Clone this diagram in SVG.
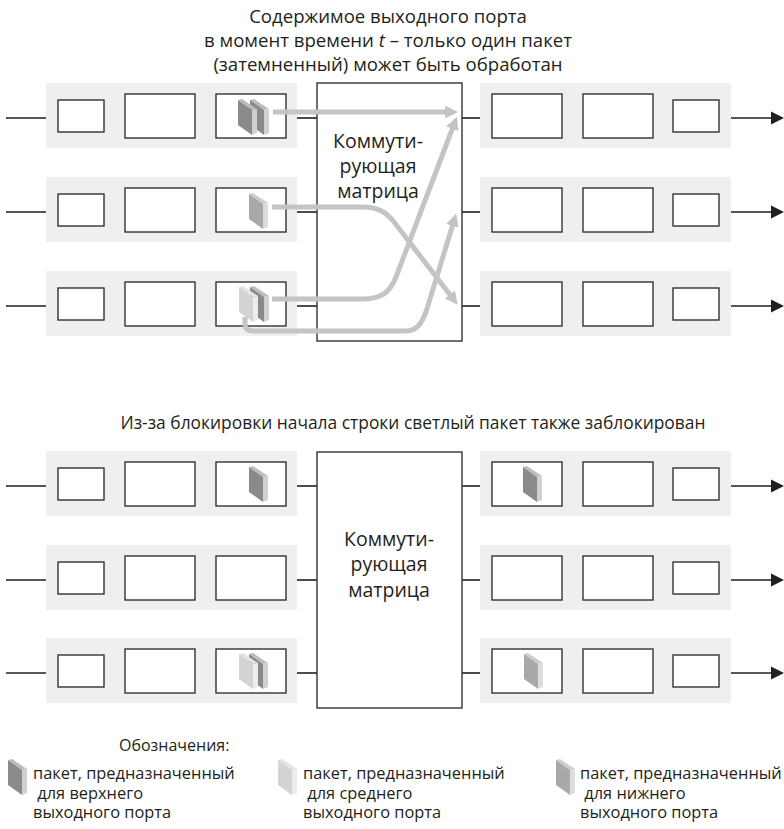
<svg xmlns="http://www.w3.org/2000/svg" xmlns:xlink="http://www.w3.org/1999/xlink" width="784" height="829" viewBox="0 0 784 829">
<style>
text{font-family:"Open Sans","Noto Sans","Liberation Sans",sans-serif;fill:#231f20}
.t{font-size:18.6px;text-anchor:middle}
.t2{font-size:17.4px;text-anchor:middle}
.m{font-size:19.5px;text-anchor:middle}
.lg{font-size:16.4px;white-space:pre}
.band{fill:#eeefef}
.box{fill:#fff;stroke:#333;stroke-width:1.4}
.mx{fill:#fff;stroke:#333;stroke-width:1.4}
.ln{stroke:#231f20;stroke-width:1.6;fill:none}
.out{stroke:#231f20;stroke-width:1.6;fill:none;marker-end:url(#blk)}
.gr{stroke:#c4c4c4;stroke-width:5;fill:none;marker-end:url(#gra)}
</style>
<defs>
<marker id="blk" markerUnits="userSpaceOnUse" markerWidth="14" markerHeight="14" viewBox="0 0 14 14" refX="1" refY="7" orient="auto"><path d="M0,0.5 L13,7 L0,13.5 z" fill="#231f20"/></marker>
<marker id="gra" markerUnits="userSpaceOnUse" markerWidth="16" markerHeight="16" viewBox="0 0 16 16" refX="2" refY="8" orient="auto"><path d="M0,1.5 L13,8 L0,14.5 z" fill="#c4c4c4"/></marker>
<g id="pkD"><polygon points="0,0 4,-1 19,9 14,10" fill="#bcbcbc"/><polygon points="14,10 19,9 19,33 14,35" fill="#d0d0d0"/><polygon points="0,0 14,10 14,35 0,25" fill="#8a8a8a"/></g>
<g id="pkM"><polygon points="0,0 4,-1 19,9 14,10" fill="#cdcdcd"/><polygon points="14,10 19,9 19,33 14,35" fill="#dcdcdc"/><polygon points="0,0 14,10 14,35 0,25" fill="#a9a9a9"/></g>
<g id="pkL"><polygon points="0,0 4,-1 19,9 14,10" fill="#e4e4e4"/><polygon points="14,10 19,9 19,33 14,35" fill="#ececec"/><polygon points="0,0 14,10 14,35 0,25" fill="#d3d3d3"/></g>
<g id="inQ"><rect class="band" x="46" y="-35" width="251" height="65"/><rect class="box" x="58" y="-18" width="46" height="32"/><rect class="box" x="125" y="-24" width="70" height="44"/><rect class="box" x="216" y="-24" width="70" height="44"/></g>
<g id="outQ"><rect class="band" x="480" y="-35" width="251" height="65"/><rect class="box" x="492" y="-24" width="70" height="44"/><rect class="box" x="583" y="-24" width="70" height="44"/><rect class="box" x="673" y="-18" width="46" height="32"/></g>
</defs>

<g id="title1">
<text class="t" x="388" y="23">Содержимое выходного порта</text>
<text class="t" x="388" y="47">в момент времени <tspan font-style="italic">t</tspan> – только один пакет</text>
<text class="t" x="388" y="71">(затемненный) может быть обработан</text>
</g>

<g id="connectors-lines">
<line class="ln" x1="6" y1="118" x2="46" y2="118"/><line class="ln" x1="297" y1="118" x2="317" y2="118"/><line class="ln" x1="462" y1="118" x2="480" y2="118"/><line class="out" x1="731" y1="118" x2="772" y2="118"/>
<line class="ln" x1="6" y1="212" x2="46" y2="212"/><line class="ln" x1="297" y1="212" x2="317" y2="212"/><line class="ln" x1="462" y1="212" x2="480" y2="212"/><line class="out" x1="731" y1="212" x2="772" y2="212"/>
<line class="ln" x1="6" y1="306" x2="46" y2="306"/><line class="ln" x1="297" y1="306" x2="317" y2="306"/><line class="ln" x1="462" y1="306" x2="480" y2="306"/><line class="out" x1="731" y1="306" x2="772" y2="306"/>
<line class="ln" x1="6" y1="486" x2="46" y2="486"/><line class="ln" x1="297" y1="486" x2="317" y2="486"/><line class="ln" x1="462" y1="486" x2="480" y2="486"/><line class="out" x1="731" y1="486" x2="772" y2="486"/>
<line class="ln" x1="6" y1="580" x2="46" y2="580"/><line class="ln" x1="297" y1="580" x2="317" y2="580"/><line class="ln" x1="462" y1="580" x2="480" y2="580"/><line class="out" x1="731" y1="580" x2="772" y2="580"/>
<line class="ln" x1="6" y1="673" x2="46" y2="673"/><line class="ln" x1="297" y1="673" x2="317" y2="673"/><line class="ln" x1="462" y1="673" x2="480" y2="673"/><line class="out" x1="731" y1="673" x2="772" y2="673"/>
</g>

<g id="in1-top"><use xlink:href="#inQ" transform="translate(0,118)"/><use xlink:href="#pkD" x="250" y="100"/><use xlink:href="#pkD" x="238" y="100"/></g>
<g id="in2-top"><use xlink:href="#inQ" transform="translate(0,212)"/><use xlink:href="#pkM" x="249" y="194"/></g>
<g id="in3-top"><use xlink:href="#inQ" transform="translate(0,306)"/><use xlink:href="#pkD" x="250" y="287"/><use xlink:href="#pkL" x="239" y="287"/></g>
<g id="matrix-top"><rect class="mx" x="317" y="83" width="145" height="258"/>
<text class="m" x="378" y="148">Коммути-</text><text class="m" x="378" y="173">рующая</text><text class="m" x="378" y="198">матрица</text></g>
<g id="out1-top"><use xlink:href="#outQ" transform="translate(0,118)"/></g>
<g id="out2-top"><use xlink:href="#outQ" transform="translate(0,212)"/></g>
<g id="out3-top"><use xlink:href="#outQ" transform="translate(0,306)"/></g>

<g id="connectors-flow">
<path class="gr" d="M273,112 H447"/>
<path class="gr" d="M272,207 H362 C378,207 386,212 394,222 L451,296"/>
<path class="gr" d="M272,299 H362 C382,299 390,292 396,277 L453,127"/>
<path class="gr" d="M245,317 V324 Q245,331 253,331 H405 C416,331 421,325 426,312 L453,224"/>
</g>

<g id="title2"><text class="t2" x="413" y="429">Из-за блокировки начала строки светлый пакет также заблокирован</text></g>

<g id="in1-bot"><use xlink:href="#inQ" transform="translate(0,486)"/><use xlink:href="#pkD" x="249" y="467"/></g>
<g id="in2-bot"><use xlink:href="#inQ" transform="translate(0,580)"/></g>
<g id="in3-bot"><use xlink:href="#inQ" transform="translate(0,673)"/><use xlink:href="#pkD" x="249" y="654"/><use xlink:href="#pkL" x="239" y="654"/></g>
<g id="matrix-bot"><rect class="mx" x="317" y="452" width="145" height="256"/>
<text class="m" x="389" y="546">Коммути-</text><text class="m" x="389" y="571">рующая</text><text class="m" x="389" y="597">матрица</text></g>
<g id="out1-bot"><use xlink:href="#outQ" transform="translate(0,486)"/><use xlink:href="#pkD" x="523" y="467"/></g>
<g id="out2-bot"><use xlink:href="#outQ" transform="translate(0,580)"/></g>
<g id="out3-bot"><use xlink:href="#outQ" transform="translate(0,673)"/><use xlink:href="#pkM" x="524" y="654"/></g>

<g id="legend">
<text class="lg" x="119" y="751" style="font-size:16px">Обозначения:</text>
<use xlink:href="#pkD" x="8" y="760"/>
<text class="lg" x="33" y="779">пакет, предназначенный</text>
<text class="lg" x="33" y="799"> для верхнего</text>
<text class="lg" x="33" y="818">выходного порта</text>
<use xlink:href="#pkL" x="278" y="760"/>
<text class="lg" x="303" y="779">пакет, предназначенный</text>
<text class="lg" x="303" y="799"> для среднего</text>
<text class="lg" x="303" y="818">выходного порта</text>
<use xlink:href="#pkM" x="556" y="760"/>
<text class="lg" x="580" y="779">пакет, предназначенный</text>
<text class="lg" x="580" y="799"> для нижнего</text>
<text class="lg" x="580" y="818">выходного порта</text>
</g>
</svg>
